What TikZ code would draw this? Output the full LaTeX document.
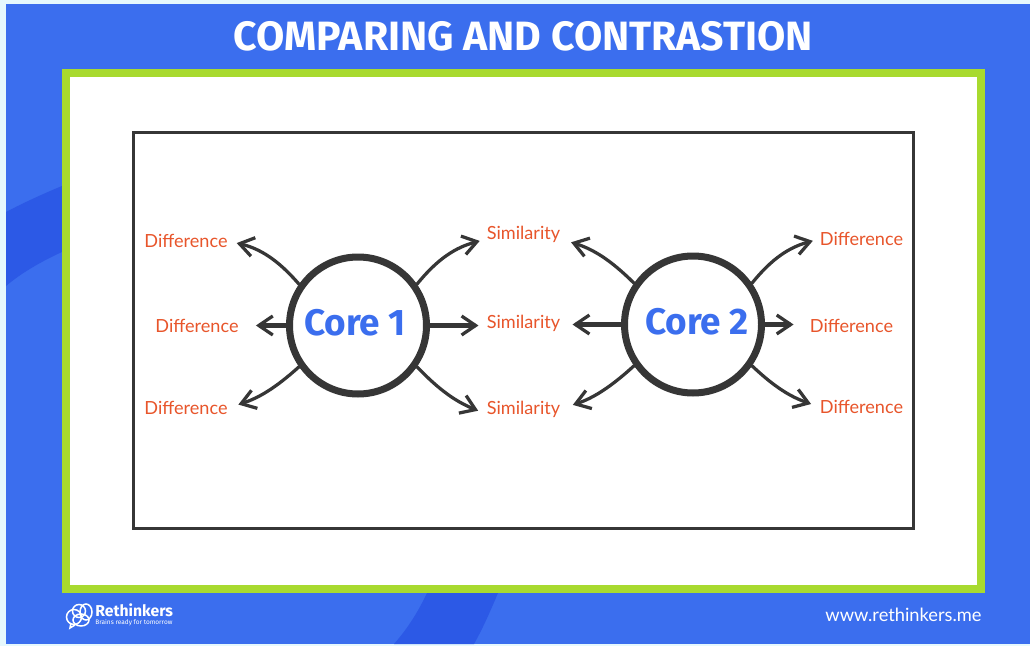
\documentclass[tikz,border=0pt]{standalone}
\usepackage{fontspec}
\usepackage{tikz}
\usetikzlibrary{arrows.meta}
\setmainfont{Fira Sans}
\newfontfamily\labelfont{Lato}
\definecolor{pageblue}{HTML}{3B6EEE}
\definecolor{swoosh}{HTML}{2C59E6}
\definecolor{framegreen}{HTML}{A8DA2F}
\definecolor{paleback}{HTML}{E6F8FD}
\definecolor{inkgrey}{HTML}{363636}
\definecolor{wordorange}{HTML}{E8552B}
\tikzset{
	core/.style={circle,draw=inkgrey,line width=1.4mm,fill=white,minimum size=27.4mm,inner sep=0pt,text=pageblue,text depth=1.2mm,font=\fontsize{21}{24}\selectfont\bfseries},
	word/.style={inner sep=0pt,text=wordorange,font=\fontsize{10.3}{12}\selectfont\labelfont},
	link/.style={line width=0.65mm,draw=inkgrey,line cap=round,shorten >=#1,-{Straight Barb[length=2.8mm,width=3.8mm,line width=0.65mm]}},
	thicklink/.style={link=#1,line width=0.9mm},
}

\begin{document}
\begin{tikzpicture}[x=0.2mm,y=-0.2mm]
		\useasboundingbox (0,0) rectangle (1030,646);
		\fill[paleback] (0,0) rectangle (1030,646);
		\fill[pageblue] (6,4) rectangle (1030,644);
		\fill[swoosh] (6,212) .. controls (25,202) and (45,193) .. (62,186) -- (62,252) .. controls (40,262) and (20,274) .. (6,286) -- cycle;
		\fill[swoosh] (427,593) -- (498,593) .. controls (490,612) and (483,628) .. (474,644) -- (394,644) .. controls (408,628) and (418,612) .. (427,593) -- cycle;

		\draw[framegreen,line width=1.6mm,fill=white] (66,73) rectangle (981,589);
		\draw[inkgrey,line width=0.75mm] (133.5,132.5) rectangle (913.5,528.5);

		\path (523.5,36) node(title) [text=white,font=\fontsize{23.3}{28}\selectfont\bfseries] {COMPARING AND CONTRASTION};

		\path (358,325.5) node(core1) [core] {Core 1\hspace*{1.2mm}};
		\path (693,324.5) node(core2) [core] {\hspace*{1.6mm}Core 2};

		\path (186,241) node(diff1) [word] {Difference};
		\path (197,326) node(diff2) [word] {Difference};
		\path (186,408) node(diff3) [word] {Difference};
		\path (523.5,234) node(sim1) [word] {Similarity};
		\path (523.5,323) node(sim2) [word] {Similarity};
		\path (523.5,409) node(sim3) [word] {Similarity};
		\path (861.5,239) node(diff4) [word] {Difference};
		\path (851.5,326) node(diff5) [word] {Difference};
		\path (861.5,407) node(diff6) [word] {Difference};

		\draw[link=1.8mm] (core1.145) to[bend right=18] (diff1.east);
		\draw[thicklink=3.4mm] (core1.180) -- (core1.180 -| diff2.east);
		\draw[link=2.2mm] (core1.215) to[bend left=12] (diff3.east);
		\draw[link=1.4mm] (core1.35) to[bend left=18] (sim1.base west);
		\draw[thicklink=1.6mm] (core1.0) -- (core1.0 -| sim2.west);
		\draw[link=1.8mm] (core1.-35) to[bend right=12] (sim3.base west);

		\draw[link=2.2mm] (core2.145) to[bend right=14] (sim1.base east);
		\draw[thicklink=2.4mm] (core2.180) -- (core2.180 -| sim2.east);
		\draw[link=2.6mm] (core2.215) to[bend left=12] (sim3.east);
		\draw[link=1.4mm] (core2.35) to[bend left=18] (diff4.west);
		\draw[thicklink=3.2mm] (core2.0) -- (core2.0 -| diff5.west);
		\draw[link=1.8mm] (core2.-35) to[bend right=12] (diff6.west);

		% logo
		\draw[white,line width=0.3mm] (79,611) circle (1.3mm);
		\draw[white,line width=0.3mm] (86,612) ellipse (1.2mm and 1.6mm);
		\draw[white,line width=0.3mm] (74,617) circle (1.5mm);
		\draw[white,line width=0.3mm] (81,620) ellipse (1.6mm and 1.2mm);
		\draw[white,line width=0.3mm] (71,623) -- (70,628) -- (75,625);
		\path (95,603) node(brand) [anchor=north west,inner sep=0pt,text=white,font=\fontsize{8.95}{10}\selectfont\bfseries] {Rethinkers};
		\path (95,619) node(motto) [anchor=north west,inner sep=0pt,text=white,font=\fontsize{3.7}{4}\selectfont] {Brains ready for tomorrow};
		\path (903.5,615) node(site) [text=white,font=\fontsize{10.4}{12}\selectfont\labelfont] {www.rethinkers.me};
\end{tikzpicture}
\end{document}
